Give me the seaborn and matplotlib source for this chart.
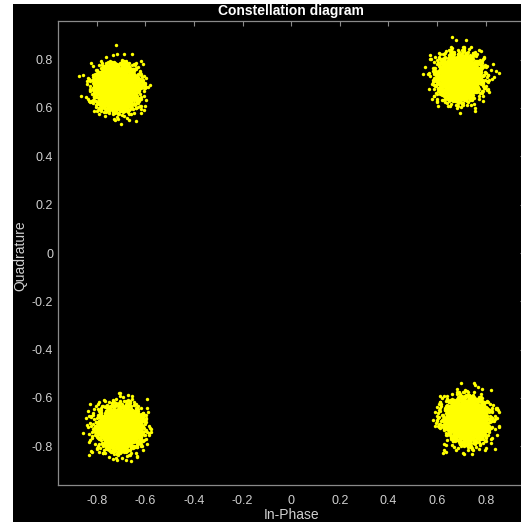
import numpy as np
import pandas as pd
import matplotlib
matplotlib.use("Agg")
import matplotlib.pyplot as plt
import seaborn as sns
from matplotlib.patches import Rectangle

# QPSK symbol positions after the channel (slight phase offset) and noise spread
symbol_i = [-0.718, 0.693, -0.705, 0.722]
symbol_q = [0.686, 0.727, -0.723, -0.690]
noise_std = 0.043
samples_per_symbol = 3000

tick_values = [-0.8, -0.6, -0.4, -0.2, 0, 0.2, 0.4, 0.6, 0.8]
tick_labels = ["-0.8", "-0.6", "-0.4", "-0.2", "0", "0.2", "0.4", "0.6", "0.8"]

# Received samples: each symbol plus additive white Gaussian noise
rng = np.random.default_rng(7)
rows = []
for ci, cq in zip(symbol_i, symbol_q):
    n_i = rng.normal(0.0, noise_std, samples_per_symbol)
    n_q = rng.normal(0.0, noise_std, samples_per_symbol)
    rows.append(pd.DataFrame({"I": ci + n_i, "Q": cq + n_q}))
df = pd.concat(rows, ignore_index=True)

sns.set_style("dark")
plt.rcParams["font.family"] = ["Liberation Sans", "DejaVu Sans"]

W, H = 521, 525
fig = plt.figure(figsize=(W / 100, H / 100), dpi=100, facecolor="white")

# black panel behind the axes
fig.patches.append(Rectangle((13 / W, 3.5 / H), 1 - 13 / W, 517.5 / H,
                             transform=fig.transFigure, facecolor="black",
                             edgecolor="none", zorder=-10))

ax = fig.add_axes([58 / W, (H - 485) / H, (524.5 - 58) / W, (485 - 21) / H])
ax.set_zorder(5)
ax.set_facecolor("black")

sns.scatterplot(data=df, x="I", y="Q", ax=ax, color="#ffff00", marker="o",
                s=6, linewidth=0, legend=False)

ax.set_xlim(-0.96, 0.96)
ax.set_ylim(-0.96, 0.96)
ax.set_xticks(tick_values)
ax.set_xticklabels(tick_labels)
ax.set_yticks(tick_values)
ax.set_yticklabels(tick_labels)
ax.grid(False)

spine_col = "#8a8a8a"
text_col = "#d0d0d0"
for sp in ax.spines.values():
    sp.set_visible(True)
    sp.set_color(spine_col)
    sp.set_linewidth(0.9)

ax.tick_params(axis="both", which="both", direction="in", length=3.5,
               width=0.8, color=spine_col, labelcolor=text_col,
               labelsize=9, top=True, right=True)
ax.tick_params(axis="x", pad=7)
ax.tick_params(axis="y", pad=3.5)

ax.set_xlabel("In-Phase", color=text_col, fontsize=10)
ax.set_ylabel("Quadrature", color=text_col, fontsize=10)
ax.xaxis.set_label_coords(0.5, -(515 - 485) / 464)
ax.xaxis.label.set_va("center")
ax.yaxis.set_label_coords(-(58 - 20) / 466.5, (485 - 256) / 464)
ax.yaxis.label.set_va("center")

ax.set_title("")
fig.text(291 / W, 1 - 11 / H, "Constellation diagram", color="white",
         fontsize=10, fontweight="bold", ha="center", va="center", zorder=6)

fig.savefig("out.png", dpi=100, facecolor="white")
